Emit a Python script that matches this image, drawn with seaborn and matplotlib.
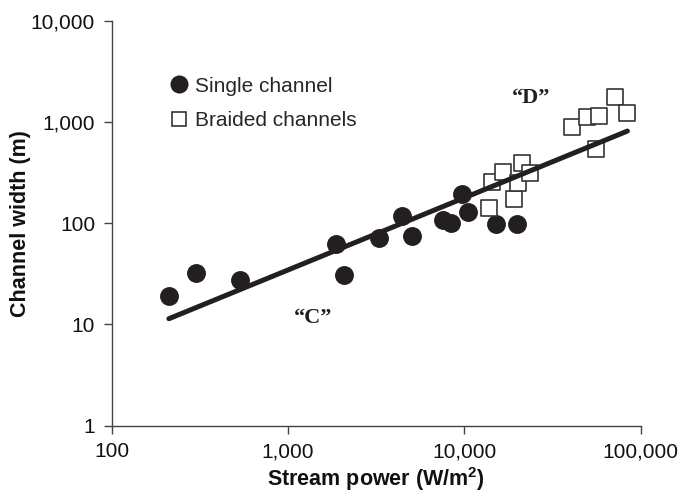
import numpy as np
import pandas as pd
import matplotlib
matplotlib.use('Agg')
import matplotlib.pyplot as plt
from matplotlib.lines import Line2D
from matplotlib.ticker import FixedLocator, FuncFormatter, NullLocator
import seaborn as sns

# values
single_power = [211, 301, 534, 1871, 2075, 3266, 4435, 5058, 7586, 8453, 9680, 10520, 15100, 19900]
single_width = [19.1, 32, 27.2, 61.9, 30.8, 71, 118, 75.6, 107.6, 101, 196, 130, 98, 98]

braided_power = [13840, 19150, 14260, 16600, 21100, 20200, 23700, 40550, 49300, 58100, 71300, 84100, 56100]
braided_width = [140, 172, 253, 323, 391, 251, 311, 898, 1127, 1145, 1751, 1217, 541]

trend_power = [211, 84100]
trend_width = [11.4, 814]

x_ticks = [100, 1000, 10000, 100000]
y_ticks = [1, 10, 100, 1000, 10000]

sns.set_style('ticks')
plt.rcParams['font.family'] = ['Liberation Sans', 'DejaVu Sans']

single = pd.DataFrame({'power': single_power, 'width': single_width})
braided = pd.DataFrame({'power': braided_power, 'width': braided_width})
trend = pd.DataFrame({'power': trend_power, 'width': trend_width})

fig = plt.figure(figsize=(6.82, 4.95), dpi=100)
ax = fig.add_axes([0.1638, 0.140, 0.7756, 0.818])

ink = '#231f20'
sns.scatterplot(data=single, x='power', y='width', marker='o', s=185, color=ink,
                linewidth=0, ax=ax, zorder=3)
sns.scatterplot(data=braided, x='power', y='width', marker='s', s=130, color='white',
                edgecolor='#333333', linewidth=1.2, ax=ax, zorder=3)
sns.lineplot(data=trend, x='power', y='width', color=ink, linewidth=3.6,
             solid_capstyle='round', ax=ax, zorder=4)

ax.set_xscale('log')
ax.set_yscale('log')
ax.set_xlim(100, 100000)
ax.set_ylim(1, 10000)
ax.xaxis.set_major_locator(FixedLocator(x_ticks))
ax.yaxis.set_major_locator(FixedLocator(y_ticks))
ax.xaxis.set_minor_locator(NullLocator())
ax.yaxis.set_minor_locator(NullLocator())
fmt = FuncFormatter(lambda v, p: f'{v:,.0f}')
ax.xaxis.set_major_formatter(fmt)
ax.yaxis.set_major_formatter(fmt)

sns.despine(ax=ax)
for side in ['left', 'bottom']:
    ax.spines[side].set_color('#444444')
    ax.spines[side].set_linewidth(1.0)
ax.tick_params(axis='both', direction='out', length=6, width=1.0, color='#444444',
               labelsize=15, labelcolor='#111111', pad=6)

ax.set_xlabel('Stream power (W/m$^\\mathregular{2}$)', fontsize=15.5, fontweight='bold',
              color='#111111', labelpad=3)
ax.set_ylabel('Channel width (m)', fontsize=15.5, fontweight='bold', color='#111111',
              labelpad=0)

ax.text(1390, 11.5, '\u201cC\u201d', family=['Liberation Serif'], fontweight='bold',
        fontsize=16, ha='center', va='center', color=ink)
ax.text(24000, 1713, '\u201cD\u201d', family=['Liberation Serif'], fontweight='bold',
        fontsize=16, ha='center', va='center', color=ink)

handles = [
    Line2D([], [], marker='o', linestyle='none', markersize=13, markerfacecolor=ink,
           markeredgewidth=0),
    Line2D([], [], marker='s', linestyle='none', markersize=10.5, markerfacecolor='white',
           markeredgecolor='#333333', markeredgewidth=1.2),
]
ax.legend(handles, ['Single channel', 'Braided channels'], loc='upper left',
          bbox_to_anchor=(0.087, 0.888), frameon=False, fontsize=15, handlelength=1.0,
          handletextpad=0.3, labelspacing=0.75, borderpad=0)

fig.savefig('out.png', dpi=100)
